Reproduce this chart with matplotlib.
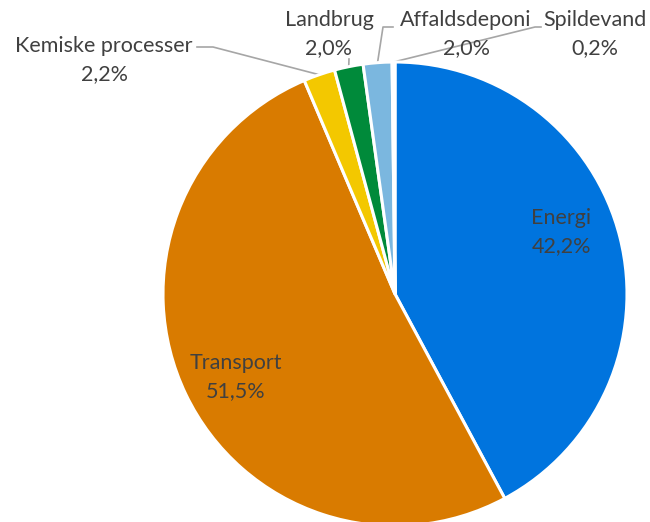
import matplotlib
matplotlib.use("Agg")
import matplotlib.pyplot as plt
import numpy as np

plt.rcParams['font.family'] = ['Lato', 'DejaVu Sans']

labels = ["Energi", "Transport", "Kemiske processer", "Landbrug", "Affaldsdeponi", "Spildevand"]
shares = [42.2, 51.5, 2.2, 2.0, 2.0, 0.2]
colors = ["#0074DE", "#D97B00", "#F3C800", "#008A3A", "#7BB7DF", "#A5A5A5"]

W, H = 650, 522
cx, cy, r = 395, H - 294, 232

fig = plt.figure(figsize=(6.5, 5.22), dpi=100)
ax = fig.add_axes([0, 0, 1, 1])
ax.set_xlim(0, W)
ax.set_ylim(0, H)
ax.set_aspect('equal')
ax.axis('off')

wedges, _ = ax.pie(shares, colors=colors, startangle=90, counterclock=False,
                   center=(cx, cy), radius=r,
                   wedgeprops=dict(edgecolor='white', linewidth=2.2))
ax.set_xlim(0, W)
ax.set_ylim(0, H)

# label positions (pixel coords, top-left origin)
pos = {
    "Energi": (561, 218),
    "Transport": (236, 363),
    "Kemiske processer": (104, 46),
    "Landbrug": (329, 20),
    "Affaldsdeponi": (466, 20),
    "Spildevand": (595, 20),
}
# leader elbows (pixel coords) for small slices outside
elbow = {
    "Kemiske processer": [(213, 47), (197, 47)],
    "Landbrug": [(349, 59)],
    "Affaldsdeponi": [(383, 27), (393, 27)],
    "Spildevand": [(535, 27), (541, 27)],
}
txt = '#404040'
for w, lab, s in zip(wedges, labels, shares):
    x, y = pos[lab]
    pct = f"{s:.1f}%".replace('.', ',')
    ax.text(x, H - y, lab, ha='center', va='center', fontsize=15.5, color=txt)
    ax.text(x, H - y - 28, pct, ha='center', va='center', fontsize=15.5, color=txt)
    if lab in elbow:
        ang = np.deg2rad((w.theta1 + w.theta2) / 2)
        px = [cx + r * np.cos(ang)] + [p[0] for p in elbow[lab]]
        py = [cy + r * np.sin(ang)] + [H - p[1] for p in elbow[lab]]
        ax.plot(px, py, color='#A6A6A6', lw=1.2, zorder=0)

fig.savefig("out.png", dpi=100)
